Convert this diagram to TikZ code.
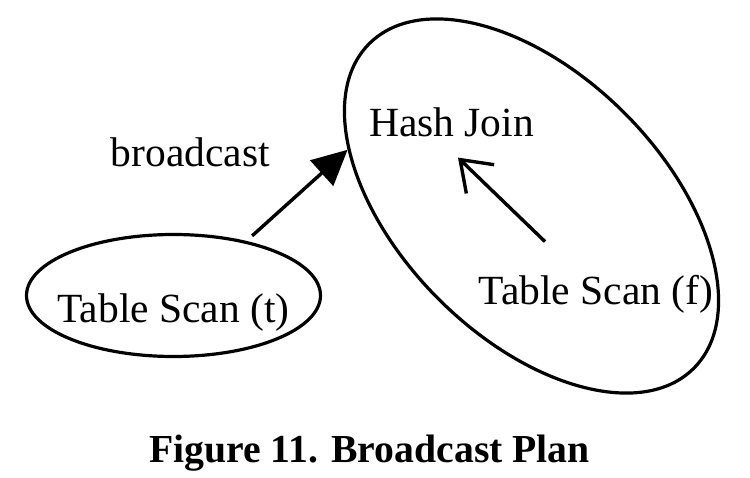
\documentclass[tikz,border=0pt]{standalone}
\usepackage{fontspec}
\setmainfont{Liberation Serif}
\usetikzlibrary{shapes.geometric,arrows.meta}
\begin{document}
\begin{tikzpicture}[x=1pt,y=-1pt,
  lbl/.style={inner sep=0pt,anchor=base,font=\fontsize{41.5}{50}\selectfont},
  oval/.style={draw,ellipse,line width=3.2pt,inner sep=0pt},
  conn/.style={line width=3.4pt}]
\useasboundingbox (0,0) rectangle (750,478);
% ellipses
\node[oval,inner xsep=-16pt,minimum width=294pt,minimum height=122pt,text height=55pt,text depth=0pt,
      font=\fontsize{41.5}{50}\selectfont] (t) at (173.5,295.5) {Table Scan (t)};
\node[oval,minimum width=459pt,minimum height=263pt,rotate=-45] (join) at (531.5,206) {};
% texts
\node[lbl] (hj) at (451.5,137) {Hash Join};
\node[lbl] (tsf) at (596,305) {Table Scan (f)};
\node[lbl] (bc) at (190.5,167) {broadcast};
\node[inner sep=0pt,anchor=base,font=\bfseries\fontsize{39.7}{48}\selectfont] (cap) at (369.5,462) {Figure 11. Broadcast Plan};
% connectors
\draw[conn,-{Triangle[length=35pt,width=34pt]}] ([shift={(2,-6)}]t.35) -- (join.208);
\draw[conn,-{Straight Barb[length=28pt,width=40pt]}] ([shift={(-51,-34)}]tsf.north) -- ([shift={(6.5,20)}]hj.south);
\end{tikzpicture}
\end{document}
